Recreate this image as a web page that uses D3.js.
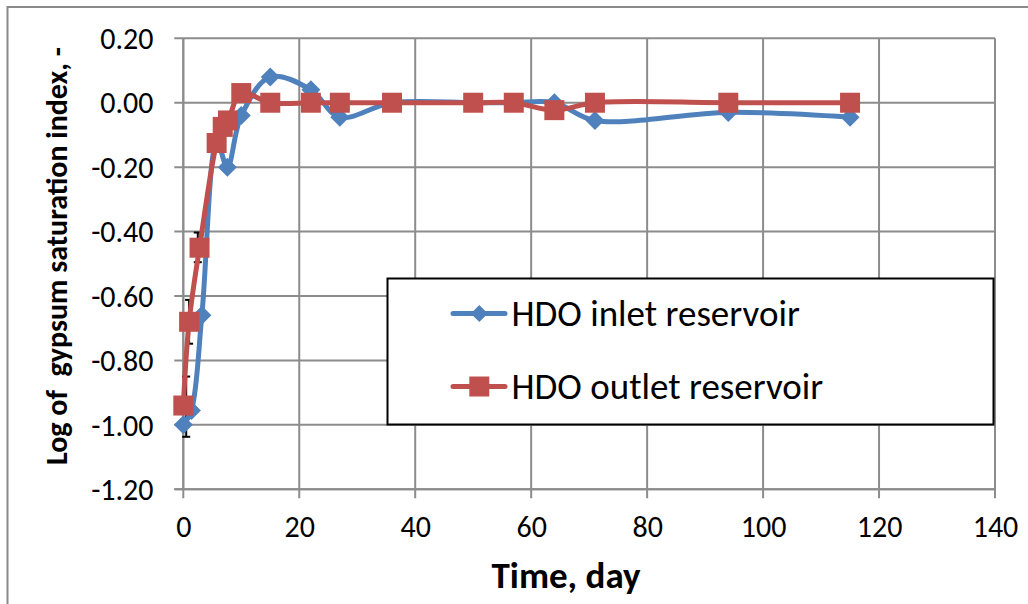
<!DOCTYPE html>
<html>
<head>
<meta charset="utf-8">
<script src="https://cdn.jsdelivr.net/npm/d3@7"></script>
<style>
  html, body { margin: 0; padding: 0; background: #fff; }
  svg { display: block; }
  text { font-family: Carlito, Lato, "Open Sans", sans-serif; fill: #000; }
</style>
</head>
<body>
<svg id="chart" width="1028" height="604"></svg>
<script>
// ---- data ----
const inletDays   = [0, 1.4, 3.2, 5.8, 7.6, 10, 15, 22, 27, 36, 50, 57, 64, 71, 94, 115];
const inletValues = [-1.00, -0.955, -0.66, -0.12, -0.20, -0.04, 0.08, 0.04, -0.045, 0.00, 0.00, 0.00, 0.00, -0.055, -0.03, -0.045];

const outletDays   = [0, 1, 2.8, 5.75, 6.8, 7.7, 10, 15, 22, 27, 36, 50, 57, 64, 71, 94, 115];
const outletValues = [-0.94, -0.68, -0.45, -0.125, -0.075, -0.055, 0.03, 0.00, 0.00, 0.00, 0.00, 0.00, 0.00, -0.023, 0.00, 0.00, 0.00];

// small error bars visible near the first points
const errDays = [0.5, 1.0, 2.5];
const errLow  = [-1.037, -0.748, -0.495];
const errHigh = [-0.85, -0.612, -0.403];

const xTicks = [0, 20, 40, 60, 80, 100, 120, 140];
const yTicks = [0.20, 0.00, -0.20, -0.40, -0.60, -0.80, -1.00, -1.20];

const seriesNames = ["HDO inlet reservoir", "HDO outlet reservoir"];
const xTitle = "Time, day";
const yTitle = "Log of  gypsum saturation index, -";

// ---- layout ----
const plot = { left: 183.3, right: 995, top: 38.3, bottom: 489.3 };
const BLUE = "#4F81BD", RED = "#C0504D", GRID = "#8c8c8c";

const svg = d3.select("#chart");

// outer chart border (extends past the right and bottom edges)
svg.append("rect")
  .attr("x", 7.5).attr("y", 7).attr("width", 1040).attr("height", 620)
  .attr("fill", "#fff").attr("stroke", "#8a8a8a").attr("stroke-width", 2);

const x = d3.scaleLinear().domain([0, 140]).range([plot.left, plot.right]);
const y = d3.scaleLinear().domain([-1.20, 0.20]).range([plot.bottom, plot.top]);

// gridlines
const g = svg.append("g");
g.selectAll(".hg").data(yTicks).join("line")
  .attr("x1", plot.left - 9).attr("x2", plot.right)
  .attr("y1", d => y(d)).attr("y2", d => y(d))
  .attr("stroke", GRID).attr("stroke-width", 2);
g.selectAll(".vg").data(xTicks).join("line")
  .attr("x1", d => x(d)).attr("x2", d => x(d))
  .attr("y1", plot.top).attr("y2", plot.bottom + 9)
  .attr("stroke", GRID).attr("stroke-width", 2);

// y axis labels (hyphen minus, as in the reference)
const fmtY = d => d3.format(".2f")(d).replace("\u2212", "-");
const yAxis = d3.axisLeft(y).tickValues(yTicks).tickSize(0).tickPadding(0).tickFormat(fmtY);
const ya = svg.append("g").attr("transform", `translate(${plot.left},0)`).call(yAxis);
ya.select(".domain").remove();
ya.selectAll("text")
  .attr("x", 153.5 - plot.left).attr("dy", "0.34em")
  .style("font-size", "30px").attr("fill", "#000");

// x axis labels
const xAxis = d3.axisBottom(x).tickValues(xTicks).tickSize(0).tickPadding(0)
  .tickFormat(d3.format("d"));
const xa = svg.append("g").attr("transform", `translate(0,${plot.bottom})`).call(xAxis);
xa.select(".domain").remove();
xa.selectAll("text").attr("y", 48).attr("dy", 0)
  .style("font-size", "30px").attr("fill", "#000");

// axis lines
svg.append("line").attr("x1", plot.left).attr("x2", plot.left)
  .attr("y1", plot.top).attr("y2", plot.bottom)
  .attr("stroke", GRID).attr("stroke-width", 2);
svg.append("line").attr("x1", plot.left - 9).attr("x2", plot.right)
  .attr("y1", plot.bottom).attr("y2", plot.bottom)
  .attr("stroke", GRID).attr("stroke-width", 2);

// titles
svg.append("text").attr("x", 566).attr("y", 588)
  .attr("text-anchor", "middle").style("font-size", "37px").style("font-weight", "bold")
  .text(xTitle);
svg.append("text")
  .attr("transform", `translate(67,256) rotate(-90)`)
  .attr("text-anchor", "middle").style("font-size", "30px").style("font-weight", "bold")
  .style("white-space", "pre").attr("xml:space", "preserve")
  .text(yTitle);

// error bars
const eb = svg.append("g").attr("stroke", "#000").attr("stroke-width", 2);
errDays.forEach((d, i) => {
  eb.append("line").attr("x1", x(d)).attr("x2", x(d)).attr("y1", y(errLow[i])).attr("y2", y(errHigh[i]));
  [errLow[i], errHigh[i]].forEach(v => {
    eb.append("line").attr("x1", x(d) - 4).attr("x2", x(d) + 4).attr("y1", y(v)).attr("y2", y(v));
  });
});

// series
const line = d3.line().x(d => x(d[0])).y(d => y(d[1])).curve(d3.curveCatmullRom.alpha(0.5));
const inlet = inletDays.map((d, i) => [d, inletValues[i]]);
const outlet = outletDays.map((d, i) => [d, outletValues[i]]);

const diamond = s => `M0,${-s}L${s},0L0,${s}L${-s},0Z`;

svg.append("path").datum(inlet).attr("d", line)
  .attr("fill", "none").attr("stroke", BLUE).attr("stroke-width", 5).attr("stroke-linejoin", "round");
svg.append("g").selectAll("path").data(inlet).join("path")
  .attr("transform", d => `translate(${x(d[0])},${y(d[1])})`)
  .attr("d", diamond(9.5)).attr("fill", BLUE);

svg.append("path").datum(outlet).attr("d", line)
  .attr("fill", "none").attr("stroke", RED).attr("stroke-width", 5).attr("stroke-linejoin", "round");
svg.append("g").selectAll("rect").data(outlet).join("rect")
  .attr("x", d => x(d[0]) - 10).attr("y", d => y(d[1]) - 10)
  .attr("width", 20).attr("height", 20).attr("fill", RED);

// legend
const lg = svg.append("g");
lg.append("rect").attr("x", 387.5).attr("y", 278.5).attr("width", 606).attr("height", 146)
  .attr("fill", "#fff").attr("stroke", "#000").attr("stroke-width", 2);
const legRows = [
  { name: seriesNames[0], color: BLUE, y: 313.5, shape: "diamond" },
  { name: seriesNames[1], color: RED, y: 386.5, shape: "square" }
];
legRows.forEach(r => {
  lg.append("line").attr("x1", 453).attr("x2", 505).attr("y1", r.y).attr("y2", r.y)
    .attr("stroke", r.color).attr("stroke-width", 5).attr("stroke-linecap", "round");
  if (r.shape === "diamond") {
    lg.append("path").attr("transform", `translate(479.3,${r.y})`).attr("d", diamond(8.5)).attr("fill", r.color);
  } else {
    lg.append("rect").attr("x", 479.3 - 10).attr("y", r.y - 10).attr("width", 20).attr("height", 20).attr("fill", r.color);
  }
  lg.append("text").attr("x", 511.5).attr("y", r.y + 12)
    .style("font-size", "37px").text(r.name);
});
</script>
</body>
</html>
